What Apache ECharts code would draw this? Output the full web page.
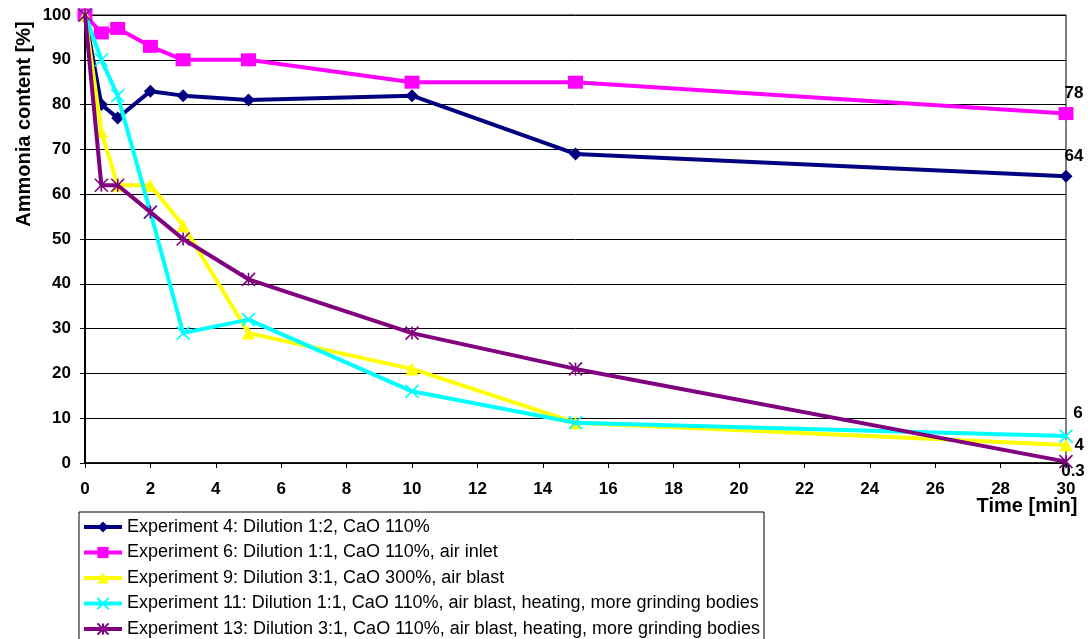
<!DOCTYPE html>
<html><head><meta charset="utf-8">
<script src="https://cdn.jsdelivr.net/npm/echarts@6/dist/echarts.min.js"></script>
<style>html,body{margin:0;padding:0;background:#fff}#c{width:1091px;height:639px}</style>
</head><body><div id="c"></div>
<script>
const times = [0, 0.5, 1, 2, 3, 5, 10, 15, 30];
const exp4  = [100, 80, 77, 83, 82, 81, 82, 69, 64];
const exp6  = [100, 96, 97, 93, 90, 90, 85, 85, 78];
const exp9  = [100, 74, 62, 62, 53, 29, 21, 9, 4];
const exp11 = [100, 90, 82, 56, 29, 32, 16, 9, 6];
const exp13 = [100, 62, 62, 56, 50, 41, 29, 21, 0.3];
const names = [
  'Experiment 4: Dilution 1:2, CaO 110%',
  'Experiment 6: Dilution 1:1, CaO 110%, air inlet',
  'Experiment 9: Dilution 3:1, CaO 300%, air blast',
  'Experiment 11: Dilution 1:1, CaO 110%, air blast, heating, more grinding bodies',
  'Experiment 13: Dilution 3:1, CaO 110%, air blast, heating, more grinding bodies'
];
const xTicks = {min: 0, max: 30, interval: 2};
const yTicks = {min: 0, max: 100, interval: 10};

const FONT = '"Liberation Sans", Arial, sans-serif';
const xSym = 'path://M0,0L10,10M10,0L0,10';
const starSym = 'path://M0,0L10,10M10,0L0,10M5,0L5,10';

const cfg = [
  {vals: exp4,  color: '#000080', symbol: 'diamond', size: 13, border: 0, lbl: {position: 'top', offset: [8, 0]}},
  {vals: exp6,  color: '#FF00FF', symbol: 'rect', size: [15, 13], border: 0, lbl: {position: 'top', offset: [8, 0]}},
  {vals: exp9,  color: '#FFFF00', symbol: 'triangle', size: 13, border: 0, lbl: {position: 'right', offset: [-3, 0]}},
  {vals: exp11, color: '#00FFFF', symbol: xSym, size: 13, border: 1.6, lbl: {position: 'top', offset: [12, -2]}},
  {vals: exp13, color: '#800080', symbol: starSym, size: 13, border: 1.6, lbl: {position: 'bottom', offset: [7, -11]}}
];

const series = cfg.map((c, i) => ({
  name: names[i],
  type: 'line',
  data: c.vals.map((v, j) => {
    const d = {value: [times[j], v]};
    if (j === c.vals.length - 1) {
      d.label = Object.assign({show: true, formatter: String(v), color: '#000', fontWeight: 'bold', fontSize: 17, fontFamily: FONT}, c.lbl);
    }
    return d;
  }),
  symbol: c.symbol,
  symbolSize: c.size,
  showAllSymbol: true,
  lineStyle: {color: c.color, width: 4},
  itemStyle: {color: c.color, borderColor: c.color, borderWidth: c.border},
  emphasis: {disabled: true},
  z: 2 + i
}));

const chart = echarts.init(document.getElementById('c'), null, {renderer: 'canvas'});
chart.setOption({
  animation: false,
  backgroundColor: '#fff',
  grid: {left: 85, right: 25, top: 15, bottom: 176, show: true, borderColor: '#000', borderWidth: 1},
  xAxis: {
    type: 'value', min: xTicks.min, max: xTicks.max, interval: xTicks.interval,
    axisLine: {show: true, onZero: false, lineStyle: {color: '#000', width: 1.5}},
    axisTick: {show: true, length: 5, lineStyle: {color: '#000'}},
    splitLine: {show: false},
    axisLabel: {color: '#000', fontWeight: 'bold', fontSize: 17, fontFamily: FONT, margin: 18}
  },
  yAxis: {
    type: 'value', min: yTicks.min, max: yTicks.max, interval: yTicks.interval,
    axisLine: {show: true, lineStyle: {color: '#000', width: 2}},
    axisTick: {show: true, length: 5, lineStyle: {color: '#000'}},
    splitLine: {show: true, lineStyle: {color: '#000', width: 1}},
    axisLabel: {color: '#000', fontWeight: 'bold', fontSize: 17, fontFamily: FONT, margin: 14}
  },
  legend: {
    orient: 'vertical', left: 79, top: 512, height: 140,
    padding: [6, 4, 6, 3],
    borderColor: '#000', borderWidth: 1,
    itemWidth: 38, itemHeight: 14, itemGap: 7.5,
    lineStyle: {width: 4},
    textStyle: {color: '#000', fontSize: 18, fontFamily: FONT},
    selectedMode: false,
    data: names
  },
  graphic: [
    {type: 'text', x: 1027, y: 506, style: {text: 'Time [min]', font: 'bold 20px ' + FONT, fill: '#000', align: 'center', verticalAlign: 'middle'}},
    {type: 'text', x: 24, y: 124, rotation: Math.PI / 2, style: {text: 'Ammonia content [%]', font: 'bold 20px ' + FONT, fill: '#000', align: 'center', verticalAlign: 'middle'}}
  ],
  series: series
});
</script></body></html>
